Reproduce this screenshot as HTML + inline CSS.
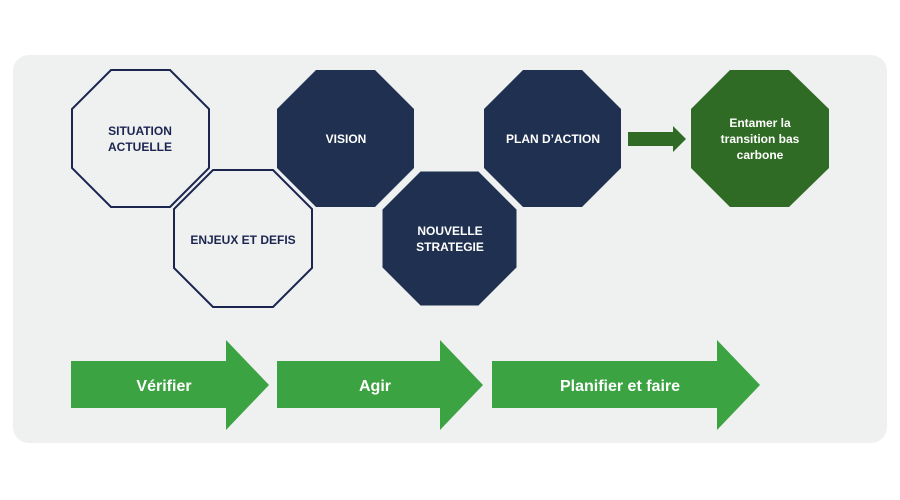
<!DOCTYPE html>
<html><head><meta charset="utf-8"><style>
body{margin:0;background:#fff;}
svg{display:block;font-family:"Liberation Sans",sans-serif;font-weight:bold;}
</style></head><body>
<svg width="900" height="500" viewBox="0 0 900 500">
<rect x="13" y="55" width="874" height="388" rx="16" fill="#eff0f0"/>
<g stroke-width="2">
<polygon points="111,70 170,70 209,109 209,168 170,207 111,207 72,168 72,109" fill="#eff0f0" stroke="#1b2550"/>
<polygon points="213,170 273,170 312,209 312,268 273,307 213,307 174,268 174,209" fill="#eff0f0" stroke="#1b2550"/>
</g>
<polygon points="316,70 375,70 414,109 414,168 375,207 316,207 277,168 277,109" fill="#1f3050"/>
<polygon points="420,170 479,170 518,209 518,268 479,307 420,307 381,268 381,209" fill="#1f3050" stroke="#eff0f0" stroke-width="3"/>
<polygon points="523,70 582,70 621,109 621,168 582,207 523,207 484,168 484,109" fill="#1f3050"/>
<polygon points="730,70 789,70 829,109 829,168 789,207 730,207 691,168 691,109" fill="#2f6b25"/>
<polygon points="628,132 673,132 673,126 686,139 673,152 673,146 628,146" fill="#2f6b25"/>
<polygon points="71,361 226,361 226,340 269,385 226,430 226,408 71,408" fill="#3ba341"/>
<polygon points="277,361 440,361 440,340 483,385 440,430 440,408 277,408" fill="#3ba341"/>
<polygon points="492,361 717,361 717,340 760,385 717,430 717,408 492,408" fill="#3ba341"/>
<g font-size="12" text-anchor="middle" fill="#1b2550">
<text x="140" y="135">SITUATION</text><text x="140" y="151">ACTUELLE</text>
<text x="243" y="244">ENJEUX ET DEFIS</text>
</g>
<g font-size="12" text-anchor="middle" fill="#fff">
<text x="346" y="143">VISION</text>
<text x="450" y="235">NOUVELLE</text><text x="450" y="251">STRATEGIE</text>
<text x="553" y="143">PLAN D’ACTION</text>
<text x="760" y="127">Entamer la</text><text x="760" y="143">transition bas</text><text x="760" y="159">carbone</text>
</g>
<g font-size="16" text-anchor="middle" fill="#fff">
<text x="164" y="391">Vérifier</text>
<text x="375" y="391">Agir</text>
<text x="620" y="391">Planifier et faire</text>
</g>
</svg>
</body></html>
